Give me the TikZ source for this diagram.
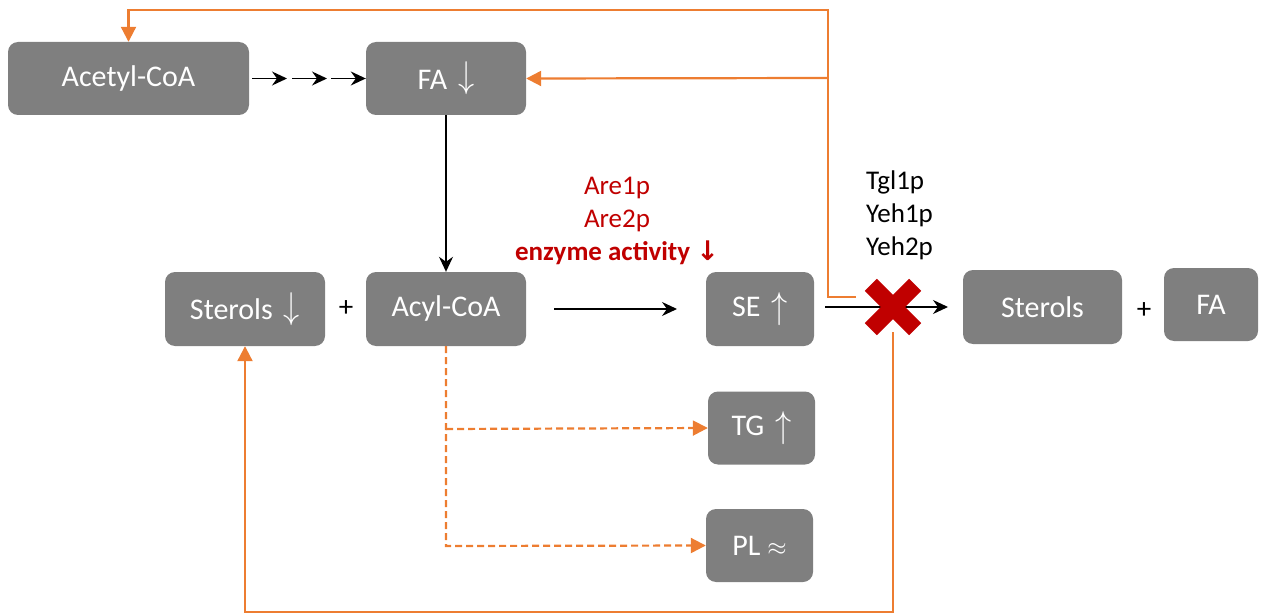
\documentclass[tikz,border=0pt]{standalone}
\usepackage{fontspec}
\usepackage{graphicx}
\setmainfont{Carlito}
\newfontfamily\symf{DejaVu Sans}
\usetikzlibrary{arrows.meta,calc}
\definecolor{boxgray}{HTML}{7F7F7F}
\definecolor{orng}{HTML}{ED7D31}
\definecolor{dred}{HTML}{C00000}
\newcommand{\dnar}{\hspace*{11pt}\raisebox{0.1ex}{\scalebox{1.3}[1.5]{$\downarrow$}}}
\newcommand{\upar}{\hspace*{11pt}\raisebox{-0.1ex}{\scalebox{1.3}[1.5]{$\uparrow$}}}
\tikzset{
  box/.style={fill=boxgray, rounded corners=10pt, text=white, inner sep=0pt,
    font=\fontsize{30}{34}\selectfont},
  blk/.style={line width=1.4pt, -{Stealth[length=15pt,width=14pt,inset=5pt]}},
  oline/.style={orng, line width=2.2pt},
  oarrow/.style={oline, -{Triangle[length=15pt,width=15pt]}},
  odash/.style={oarrow, dash pattern=on 7pt off 4pt},
  plus/.style={font=\fontsize{29}{34}\selectfont, inner sep=0pt},
  lbl/.style={font=\fontsize{27}{33}\selectfont, inner sep=0pt},
}
\begin{document}
\begin{tikzpicture}[x=1pt,y=-1pt]
\useasboundingbox (0,0) rectangle (1262,615);
% boxes
\node[box, minimum width=241pt, minimum height=73pt] (acetyl) at (128.5,78.5) {Acetyl-CoA};
\node[box, minimum width=160pt, minimum height=73pt] (fa) at (446,78.5) {FA\dnar};
\node[box, minimum width=160pt, minimum height=74pt] (sterols) at (245,309) {Sterols\dnar};
\node[plus] (p1) at (346,309) {+};
\node[box, minimum width=160pt, minimum height=74pt] (acyl) at (446,309) {Acyl-CoA};
\node[box, minimum width=108pt, minimum height=74pt] (se) at (760,309) {SE\upar};
\node[box, minimum width=107pt, minimum height=73pt] (tg) at (761.5,428) {TG\upar};
\node[box, minimum width=107pt, minimum height=73pt] (pl) at (759.5,545.5) {PL $\approx$};
\node[box, minimum width=159pt, minimum height=74pt] (sterols2) at (1042.5,307) {Sterols};
\node[plus] (p2) at (1144,311) {+};
\node[box, minimum width=94pt, minimum height=73pt] (fa2) at (1211,304.5) {FA};
% labels
\node[lbl, text=dred, align=center] (are) at (617,221) {Are1p\\Are2p\\\textbf{enzyme activity {\symf ↓}}};
\node[lbl, align=left, anchor=west] (tgl) at (866,215) {Tgl1p\\Yeh1p\\Yeh2p};
% black arrows
\coordinate (c1) at (252,78.5); \coordinate (c2) at (287,78.5);
\coordinate (c3) at (292,78.5); \coordinate (c4) at (327,78.5);
\coordinate (c5) at (331,78.5);
\draw[blk] (c1) -- (c2);
\draw[blk] (c3) -- (c4);
\draw[blk] (c5) -- (fa.west);
\draw[blk] (fa.south) -- (acyl.north);
\coordinate (s1) at (554,309); \coordinate (s2) at (677,309);
\draw[blk] (s1) -- (s2);
\coordinate (h1) at (825,307); \coordinate (h2) at (948,307);
\draw[blk] (h1) -- (h2);
% orange feedback
\coordinate (ostart) at (856,297);
\coordinate (jn) at (828,78);
\draw[oarrow] (ostart) -- (828,297) -- (828,10) -| (acetyl.north);
\draw[oarrow] (jn) -- (fa.east);
\coordinate (bstart) at (893,332);
\draw[oarrow] (bstart) -- (893,612) -| (sterols.south);
% dashed
\coordinate (dj) at (446,429);
\draw[odash] (acyl.south) -- (446,546) -- (pl.west);
\draw[odash] (dj) -- (tg.west);
% red cross
\node[minimum size=56pt, inner sep=0pt] (x) at (893,307) {};
\draw[dred, line width=17pt] ($(x.north west)+(6,6)$) -- ($(x.south east)+(-6,-6)$);
\draw[dred, line width=17pt] ($(x.north east)+(-6,6)$) -- ($(x.south west)+(6,-6)$);
\end{tikzpicture}
\end{document}
